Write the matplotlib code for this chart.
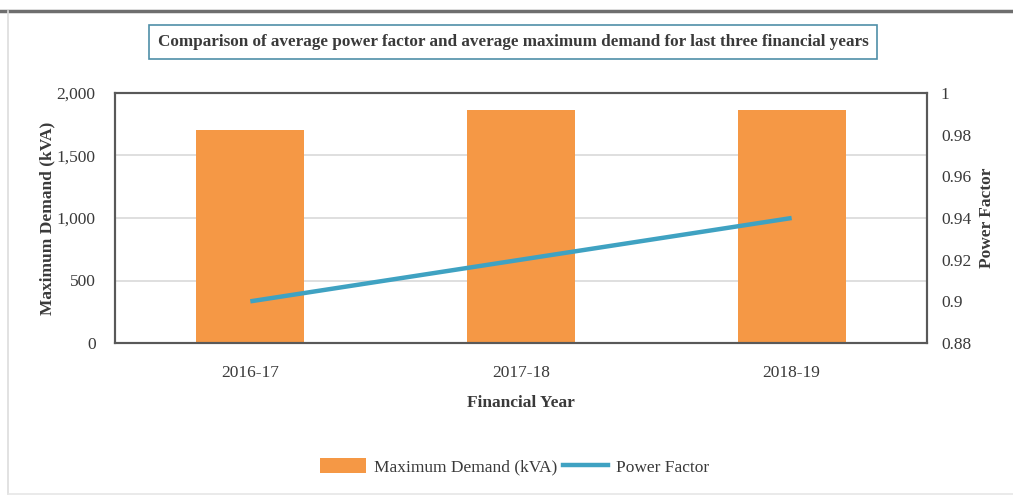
import matplotlib
matplotlib.use("Agg")
import matplotlib.pyplot as plt
from matplotlib.lines import Line2D
from matplotlib.patches import Patch
from matplotlib.ticker import FuncFormatter

years = ["2016-17", "2017-18", "2018-19"]
max_demand = [1705, 1860, 1860]
power_factor = [0.90, 0.92, 0.94]
demand_ticks = [0, 500, 1000, 1500, 2000]
pf_ticks = [0.88, 0.90, 0.92, 0.94, 0.96, 0.98, 1.00]

BAR_COLOR = "#F59845"
LINE_COLOR = "#3FA2C2"
TEXT_COLOR = "#3A3A3A"
SPINE_COLOR = "#595959"

plt.rcParams["font.family"] = ["Liberation Serif", "DejaVu Serif"]

fig = plt.figure(figsize=(10.13, 5.0), dpi=100)
fig.patch.set_facecolor("white")

W, H = 1013, 500
ax = fig.add_axes([115 / W, 1 - 343 / H, 812 / W, 250 / H])
x = range(len(years))
ax.bar(x, max_demand, width=0.4, color=BAR_COLOR, zorder=2)
ax.set_xlim(-0.5, len(years) - 0.5)
ax.set_ylim(demand_ticks[0], demand_ticks[-1])
ax.set_yticks(demand_ticks)
ax.yaxis.set_major_formatter(FuncFormatter(lambda v, p: f"{v:,.0f}"))
ax.set_xticks(list(x))
ax.set_xticklabels(years)
ax.grid(axis="y", color="#D9D9D9", linewidth=1.2, zorder=0)
ax.set_axisbelow(True)
ax.tick_params(axis="both", length=0, labelsize=12.5, colors=TEXT_COLOR)
ax.tick_params(axis="x", pad=16)
ax.tick_params(axis="y", pad=14)
for s in ax.spines.values():
    s.set_color(SPINE_COLOR)
    s.set_linewidth(1.5)
ax.set_ylabel("Maximum Demand (kVA)", fontsize=12.5, fontweight="bold",
              color=TEXT_COLOR, labelpad=1)
ax.set_xlabel("Financial Year", fontsize=12.5, fontweight="bold",
              color=TEXT_COLOR, labelpad=10)

ax2 = ax.twinx()
ax2.plot(list(x), power_factor, color=LINE_COLOR, linewidth=3.2,
         solid_capstyle="butt", zorder=3)
ax2.set_ylim(pf_ticks[0], pf_ticks[-1])
ax2.set_yticks(pf_ticks)
ax2.yaxis.set_major_formatter(FuncFormatter(lambda v, p: f"{v:g}"))
ax2.tick_params(axis="y", length=0, labelsize=12.5, colors=TEXT_COLOR, pad=10)
for s in ax2.spines.values():
    s.set_color(SPINE_COLOR)
    s.set_linewidth(1.5)
ax2.set_ylabel("Power Factor", fontsize=12.5, fontweight="bold",
               color=TEXT_COLOR, labelpad=6)

fig.text(513 / W, 1 - 42 / H,
         "Comparison of average power factor and average maximum demand for last three financial years",
         ha="center", va="center", fontsize=12.3, fontweight="bold",
         color=TEXT_COLOR,
         bbox=dict(boxstyle="square,pad=0.5", facecolor="white",
                   edgecolor="#4F8FA8", linewidth=1.2))

handles = [Patch(facecolor=BAR_COLOR, edgecolor="none"),
           Line2D([0], [0], color=LINE_COLOR, linewidth=3.2)]
fig.legend(handles, ["Maximum Demand (kVA)", "Power Factor"],
           loc="center", bbox_to_anchor=(515 / W, 1 - 467 / H), ncol=2,
           frameon=False, fontsize=12.5, handlelength=2.6, handleheight=0.9,
           columnspacing=0.3, handletextpad=0.5,
           labelcolor=TEXT_COLOR)

# page frame around the chart
fig.add_artist(Line2D([0, 1], [1 - 11 / H, 1 - 11 / H], color="#6E6E6E",
                      linewidth=2.5, transform=fig.transFigure))
fig.add_artist(Line2D([8 / W, 8 / W], [1 - 11 / H, 1 - 494 / H], color="#DDDDDD",
                      linewidth=1.2, transform=fig.transFigure))
fig.add_artist(Line2D([8 / W, 1], [1 - 494 / H, 1 - 494 / H], color="#E6E6E6",
                      linewidth=1.2, transform=fig.transFigure))

fig.savefig("out.png", dpi=100, facecolor="white")
